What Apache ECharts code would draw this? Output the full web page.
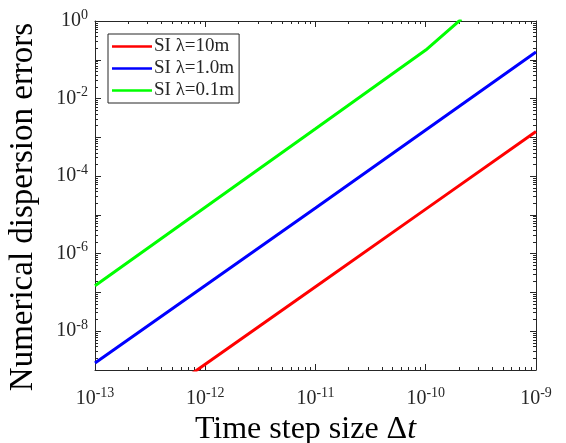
<!DOCTYPE html>
<html>
<head>
<meta charset="utf-8">
<script src="https://cdn.jsdelivr.net/npm/echarts@6/dist/echarts.min.js"></script>
<style>
  html, body { margin: 0; padding: 0; background: #fff; }
  #chart { width: 566px; height: 443px; }
</style>
</head>
<body>
<div id="chart"></div>
<script>
// time step sizes (s)
const dtValues = [1e-13, 1e-12, 1e-11, 1e-10, 1e-9]
const dtGreen = [1e-13, 1e-12, 1e-11, 1e-10, 2.1e-10]
// errors
const err10m = [1.41e-11, 1.41e-9, 1.41e-7, 1.41e-5, 1.41e-3]
const err1m = [1.51e-9, 1.51e-7, 1.51e-5, 1.55e-3, 0.158]
const err01m = [1.48e-7, 1.58e-5, 1.66e-3, 0.178, 1.12]
const seriesNames = ['SI \u03bb=10m', 'SI \u03bb=1.0m', 'SI \u03bb=0.1m']
const seriesColors = ['#ff0000', '#0000ff', '#00ff00']

const font = 'Liberation Serif'
const axisColor = '#262626'

const pair = (xs, ys) => xs.map((x, i) => [x, ys[i]])

const expLabel = v => {
  const e = Math.round(Math.log10(v))
  return '{b|10}{e|' + e + '}'
}
const labelRich = {
  b: { fontFamily: font, fontSize: 20, color: axisColor },
  e: { fontFamily: font, fontSize: 14, color: axisColor, padding: [0, 0, 12, 0] }
}

const baseX = {
  type: 'log',
  min: 1e-13,
  max: 1e-9,
  splitNumber: 4,
  axisLine: { show: true, lineStyle: { color: axisColor, width: 1 } },
  axisTick: { show: true, inside: true, length: 6, lineStyle: { color: axisColor } },
  minorTick: { show: true, splitNumber: 9, length: 3, lineStyle: { color: axisColor } },
  splitLine: { show: false }
}
const baseY = {
  type: 'log',
  min: 1e-9,
  max: 1,
  splitNumber: 9,
  axisLine: { show: true, lineStyle: { color: axisColor, width: 1 } },
  axisTick: { show: true, inside: true, length: 6, lineStyle: { color: axisColor } },
  minorTick: { show: true, splitNumber: 9, length: 3, lineStyle: { color: axisColor } },
  splitLine: { show: false }
}

const chart = echarts.init(document.getElementById('chart'))
chart.setOption({
  animation: false,
  backgroundColor: '#fff',
  grid: { left: 95, right: 30, top: 21, bottom: 73, containLabel: false, outerBoundsMode: 'none' },
  legend: {
    orient: 'vertical',
    left: 108,
    top: 34,
    backgroundColor: '#fff',
    borderColor: '#262626',
    borderWidth: 1,
    borderRadius: 0,
    padding: [3, 5, 3, 4],
    itemGap: 3,
    itemWidth: 40,
    itemHeight: 14,
    textStyle: { fontFamily: font, fontSize: 19, color: axisColor, padding: [0, 0, 0, -3] },
    data: seriesNames.map((n, i) => ({ name: n, icon: 'path://M0,6L40,6L40,8.5L0,8.5Z' }))
  },
  xAxis: [
    Object.assign({}, baseX, {
      position: 'bottom',
      name: 'Time step size \u0394{i|t}',
      nameLocation: 'middle',
      nameGap: 41,
      nameTextStyle: {
        fontFamily: font, fontSize: 32, color: '#000', padding: [0, 20, 0, 0],
        rich: { i: { fontFamily: font, fontSize: 32, fontStyle: 'italic', color: '#000' } }
      },
      axisLabel: { margin: 16, formatter: expLabel, rich: labelRich }
    }),
    Object.assign({}, baseX, { position: 'top', axisLabel: { show: false } })
  ],
  yAxis: [
    Object.assign({}, baseY, {
      position: 'left',
      name: 'Numerical dispersion errors',
      nameLocation: 'middle',
      nameGap: 55,
      nameTextStyle: { fontFamily: font, fontSize: 33, color: '#000', padding: [0, 23, 0, 0] },
      axisLabel: {
        margin: 7,
        formatter: v => {
          const e = Math.round(Math.log10(v))
          return e % 2 === 0 ? expLabel(v) : ''
        },
        rich: labelRich
      }
    }),
    Object.assign({}, baseY, { position: 'right', axisLabel: { show: false } })
  ],
  series: [
    { name: seriesNames[0], data: pair(dtValues, err10m) },
    { name: seriesNames[1], data: pair(dtValues, err1m) },
    { name: seriesNames[2], data: pair(dtGreen, err01m) }
  ].map((s, i) => Object.assign(s, {
    type: 'line',
    xAxisIndex: 0,
    yAxisIndex: 0,
    symbol: 'none',
    clip: true,
    color: seriesColors[i],
    lineStyle: { color: seriesColors[i], width: 3 }
  }))
})
</script>
</body>
</html>
